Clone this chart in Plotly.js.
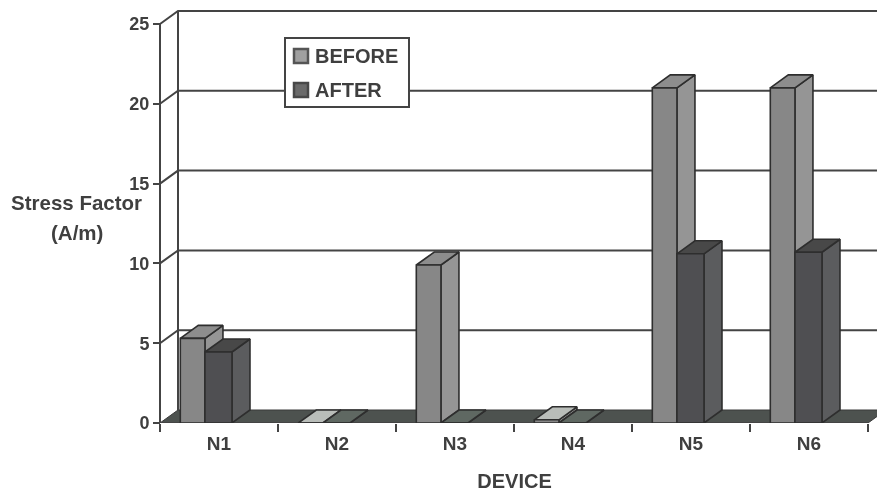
<!DOCTYPE html>
<html><head><meta charset="utf-8">
<script src="https://cdn.plot.ly/plotly-3.0.1.min.js"></script>
<style>html,body{margin:0;padding:0;background:#fff}#c{width:877px;height:493px;filter:blur(0.45px)}</style>
</head><body><div id="c"></div>
<script>
const categories = ['N1','N2','N3','N4','N5','N6'];
const before = [5.3, 0, 9.9, 0.2, 21, 21];
const after = [4.45, 0, 0, 0, 10.6, 10.7];
const yTicks = [0,5,10,15,20,25];
const seriesNames = ['BEFORE','AFTER'];

// pseudo-3D projection, in axis units
const ML=152, MR=0, MT=8, MB=70, W=877, H=493, AX0=160;
const PW=W-ML-MR, PH=H-MT-MB;
const PXX=118, PXY=15.96;
const DX = 18/PXX, DY = 13/PXY;
const BAR_A = 0.172, BAR_B = 0.381, BAR_C = 0.61;
const XMIN=-(AX0-ML)/PXX, XMAX=(W-AX0)/PXX, YMAX=PH/PXY;
const fx=px=>(px-ML)/PW, fy=py=>(H-MB-py)/PH;

function faces(vals, l, r, keep){
  const front={x:[],y:[]}, side={x:[],y:[]}, top={x:[],y:[]};
  const add=(o,px,py)=>{o.x.push(...px,null);o.y.push(...py,null);};
  vals.forEach((v,i)=>{
    const a=i+l,b=i+r;
    add(front,[a,b,b,a,a],[0,0,v,v,0]);
    add(side,[b,b+DX,b+DX,b,b],[0,DY,v+DY,v,0]);
    if(keep(v)) add(top,[a,b,b+DX,a+DX,a],[v,v,v+DY,v+DY,v]);
  });
  return {front,side,top};
}
const poly=(o,fill,name,extra)=>Object.assign({type:'scatter',mode:'lines',x:o.x,y:o.y,fill:'toself',fillcolor:fill,
  line:{color:'#2e2e2e',width:1.6},name:name,showlegend:false,hoverinfo:'skip'},extra||{});
const INK='#3f3f3f', LINE='#444';
const line=(x,y,w)=>({type:'scatter',mode:'lines',x,y,line:{color:LINE,width:w||2},showlegend:false,hoverinfo:'skip'});

const gx=[],gy=[];
yTicks.forEach(v=>{ if(v>0){gx.push(0,DX,6+DX,null);gy.push(v,v+DY,v+DY,null);} });

const B=faces(before,BAR_A,BAR_B,v=>v>0.5), BL=faces(before,BAR_A,BAR_B,v=>v<=0.5);
const A=faces(after,BAR_B,BAR_C,v=>v>0.5), AL=faces(after,BAR_B,BAR_C,v=>v<=0.5);

const traces=[
  poly({x:[0,6,6+DX,DX,0],y:[0,0,DY,DY,0]},'#4d524f','floor',{line:{color:'#3a3a3a',width:1}}),
  line(gx,gy),
  line([DX,DX],[DY,25+DY]),
  line([0,0],[0,25]),
  line([0,6],[0,0]),
  poly(B.side,'#959595','BEFORE side'),
  poly(B.top,'#8d8d8d','BEFORE top'),
  poly(BL.top,'#b9bdb9','BEFORE top low'),
  poly(B.front,'#878787',seriesNames[0]),
  poly(A.side,'#5b5c5e','AFTER side'),
  poly(A.top,'#484848','AFTER top'),
  poly(AL.top,'#5f6862','AFTER top low'),
  poly(A.front,'#4f4f52',seriesNames[1])
];

const pshape=(x0,y0,x1,y1,fill,lc,lw)=>({type:'rect',xref:'paper',yref:'paper',x0:fx(x0),x1:fx(x1),y0:fy(y0),y1:fy(y1),
  fillcolor:fill,line:{color:lc,width:lw}});
const label=(text,px,py,size,anchor)=>({text:text,xref:'paper',yref:'paper',x:fx(px),y:fy(py),xanchor:anchor,yanchor:'middle',
  showarrow:false,font:{size:size,color:INK,weight:'bold'}});

const layout={
  width:W,height:H,paper_bgcolor:'#fff',plot_bgcolor:'rgba(0,0,0,0)',
  margin:{l:ML,r:MR,t:MT,b:MB,pad:0},
  font:{family:'"Liberation Sans",Arial,sans-serif',color:INK,size:18},
  showlegend:false,
  xaxis:{range:[XMIN,XMAX],tickvals:categories.map((c,i)=>i+0.5),ticktext:categories,ticks:'',ticklabelstandoff:7,
    showgrid:false,zeroline:false,showline:false,
    minor:{ticks:'outside',ticklen:8,tickwidth:2,tickcolor:LINE,dtick:1,tick0:0,showgrid:false},
    title:{text:'DEVICE',font:{size:20,color:INK,weight:'bold'},standoff:20},tickfont:{size:19,color:INK,weight:'bold'}},
  yaxis:{range:[0,YMAX],anchor:'free',position:fx(AX0),tickvals:yTicks,ticks:'outside',ticklen:7,tickwidth:2,tickcolor:LINE,
    showgrid:false,zeroline:false,showline:false,tickfont:{size:18,color:INK,weight:'bold'}},
  shapes:[
    pshape(285,38,409,107,'#fff',LINE,2),
    pshape(294,49,308,63,'#a0a0a0','#555',2.5),
    pshape(294,83,308,97,'#6a6a6a','#484848',2.5)
  ],
  annotations:[
    label('Stress Factor',76.5,203,20.5,'center'),
    label('(A/m)',76.5,232,20.5,'center'),
    label(seriesNames[0],313,56,20,'left'),
    label(seriesNames[1],313,90,20,'left')
  ]
};
Plotly.newPlot('c',traces,layout,{displayModeBar:false,staticPlot:true});
</script></body></html>
